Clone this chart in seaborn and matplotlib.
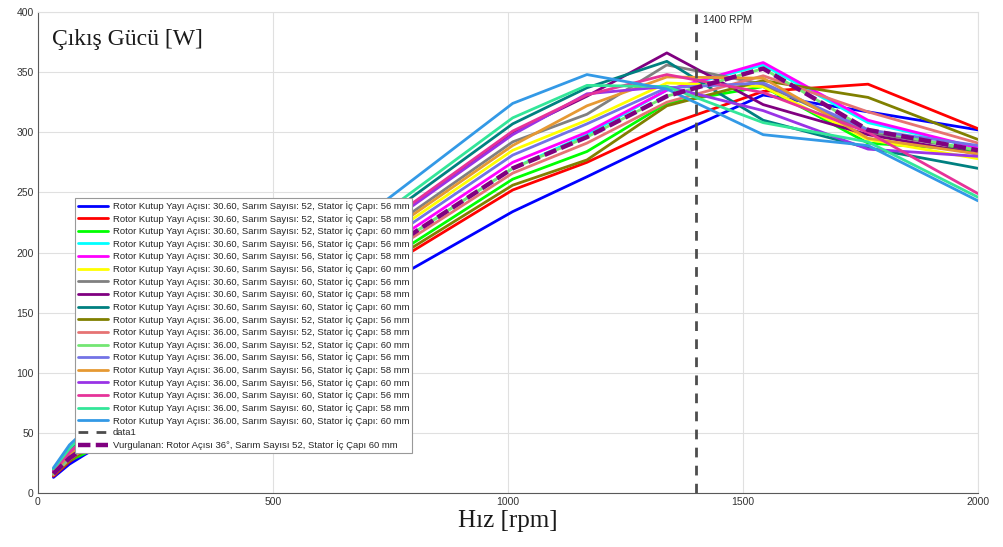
import numpy as np
import pandas as pd
import matplotlib
matplotlib.use("Agg")
import matplotlib.pyplot as plt
import seaborn as sns

# ---------------- data ----------------
speed_rpm = [33, 67, 100, 1010, 1168, 1338, 1543, 1766, 2000]

labels = [
    "Rotor Kutup Yayı Açısı: 30.60, Sarım Sayısı: 52, Stator İç Çapı: 56 mm",
    "Rotor Kutup Yayı Açısı: 30.60, Sarım Sayısı: 52, Stator İç Çapı: 58 mm",
    "Rotor Kutup Yayı Açısı: 30.60, Sarım Sayısı: 52, Stator İç Çapı: 60 mm",
    "Rotor Kutup Yayı Açısı: 30.60, Sarım Sayısı: 56, Stator İç Çapı: 56 mm",
    "Rotor Kutup Yayı Açısı: 30.60, Sarım Sayısı: 56, Stator İç Çapı: 58 mm",
    "Rotor Kutup Yayı Açısı: 30.60, Sarım Sayısı: 56, Stator İç Çapı: 60 mm",
    "Rotor Kutup Yayı Açısı: 30.60, Sarım Sayısı: 60, Stator İç Çapı: 56 mm",
    "Rotor Kutup Yayı Açısı: 30.60, Sarım Sayısı: 60, Stator İç Çapı: 58 mm",
    "Rotor Kutup Yayı Açısı: 30.60, Sarım Sayısı: 60, Stator İç Çapı: 60 mm",
    "Rotor Kutup Yayı Açısı: 36.00, Sarım Sayısı: 52, Stator İç Çapı: 56 mm",
    "Rotor Kutup Yayı Açısı: 36.00, Sarım Sayısı: 52, Stator İç Çapı: 58 mm",
    "Rotor Kutup Yayı Açısı: 36.00, Sarım Sayısı: 52, Stator İç Çapı: 60 mm",
    "Rotor Kutup Yayı Açısı: 36.00, Sarım Sayısı: 56, Stator İç Çapı: 56 mm",
    "Rotor Kutup Yayı Açısı: 36.00, Sarım Sayısı: 56, Stator İç Çapı: 58 mm",
    "Rotor Kutup Yayı Açısı: 36.00, Sarım Sayısı: 56, Stator İç Çapı: 60 mm",
    "Rotor Kutup Yayı Açısı: 36.00, Sarım Sayısı: 60, Stator İç Çapı: 56 mm",
    "Rotor Kutup Yayı Açısı: 36.00, Sarım Sayısı: 60, Stator İç Çapı: 58 mm",
    "Rotor Kutup Yayı Açısı: 36.00, Sarım Sayısı: 60, Stator İç Çapı: 60 mm",
]

p_30_52_56 = [13, 24, 32, 234, 263, 295, 331, 317, 302]
p_30_52_58 = [14, 26, 35, 252, 275, 306, 334, 340, 303]
p_30_52_60 = [15, 27, 33, 261, 284, 324, 338, 291, 285]
p_30_56_56 = [16, 29, 38, 270, 298, 335, 356, 308, 287]
p_30_56_58 = [16, 30, 39, 275, 300, 335, 358, 310, 287]
p_30_56_60 = [17, 31, 41, 285, 310, 341, 338, 294, 278]
p_30_60_56 = [18, 33, 43, 292, 315, 356, 340, 300, 285]
p_30_60_58 = [18, 34, 45, 300, 330, 366, 323, 298, 282]
p_30_60_60 = [20, 36, 48, 307, 337, 359, 310, 287, 270]
p_36_52_56 = [15, 27, 35, 256, 277, 322, 343, 329, 294]
p_36_52_58 = [15, 28, 37, 266, 291, 325, 347, 317, 291]
p_36_52_60 = [16, 29, 38, 270, 296, 330, 353, 302, 285]
p_36_56_56 = [17, 31, 40, 281, 307, 337, 341, 302, 289]
p_36_56_58 = [17, 32, 42, 289, 322, 346, 345, 295, 282]
p_36_56_60 = [18, 34, 45, 298, 332, 338, 318, 286, 280]
p_36_60_56 = [18, 34, 45, 301, 331, 348, 333, 300, 249]
p_36_60_58 = [20, 37, 50, 312, 339, 338, 308, 292, 246]
p_36_60_60 = [21, 40, 52, 324, 348, 336, 298, 289, 243]

series = [p_30_52_56, p_30_52_58, p_30_52_60, p_30_56_56, p_30_56_58, p_30_56_60,
          p_30_60_56, p_30_60_58, p_30_60_60, p_36_52_56, p_36_52_58, p_36_52_60,
          p_36_56_56, p_36_56_58, p_36_56_60, p_36_60_56, p_36_60_58, p_36_60_60]

colors = [
    (0, 0, 1), (1, 0, 0), (0, 1, 0), (0, 1, 1), (1, 0, 1), (1, 1, 0),
    (0.5, 0.5, 0.5), (0.5, 0, 0.5), (0, 0.5, 0.5), (0.5, 0.5, 0),
    (0.9, 0.45, 0.45), (0.45, 0.9, 0.45), (0.45, 0.45, 0.9), (0.9, 0.6, 0.2),
    (0.6, 0.2, 0.9), (0.9, 0.2, 0.6), (0.2, 0.9, 0.6), (0.2, 0.6, 0.9),
]

marker_rpm = 1400
marker_label = "data1"
highlight_label = "Vurgulanan: Rotor Açısı 36°, Sarım Sayısı 52, Stator İç Çapı 60 mm"
highlight_values = p_36_52_60

x_ticks = [0, 500, 1000, 1500, 2000]
y_ticks = [0, 50, 100, 150, 200, 250, 300, 350, 400]

# ---------------- plot ----------------
sns.set_theme(style="white")
plt.rcParams['font.family'] = ['Liberation Sans', 'DejaVu Sans']

fig = plt.figure(figsize=(10.04, 5.47), dpi=100)
ax = fig.add_axes([0.0378, 0.0987, 0.9363, 0.8793])

for vals, lab, col in zip(series, labels, colors):
    df = pd.DataFrame({"rpm": speed_rpm, "P": vals})
    sns.lineplot(data=df, x="rpm", y="P", color=col, lw=2.0, label=lab,
                 ax=ax, sort=False, estimator=None)

ax.axvline(marker_rpm, color=(0.3, 0.3, 0.3), ls=(0, (3.5, 3)), lw=2.0,
           label=marker_label, ymax=0.995)

dfh = pd.DataFrame({"rpm": speed_rpm, "P": highlight_values})
sns.lineplot(data=dfh, x="rpm", y="P", color=(0.5, 0, 0.5), lw=3.2,
             ls=(0, (2.8, 1.2)), label=highlight_label, ax=ax, sort=False,
             estimator=None)

ax.set_xlim(0, 2000)
ax.set_ylim(0, 400)
ax.set_xticks(x_ticks)
ax.set_yticks(y_ticks)
ax.grid(True, color=(0.88, 0.88, 0.88), lw=0.8)
ax.tick_params(axis='both', direction='in', length=4, labelsize=7.5,
               colors=(0.3, 0.3, 0.3), labelcolor=(0.2, 0.2, 0.2), pad=3)
for s in ['left', 'bottom']:
    ax.spines[s].set_color((0.35, 0.35, 0.35))
    ax.spines[s].set_linewidth(0.8)
for s in ['top', 'right']:
    ax.spines[s].set_color((0.88, 0.88, 0.88))
    ax.spines[s].set_linewidth(0.8)

ax.set_xlabel("Hız [rpm]", family="Liberation Serif", fontsize=18,
              color=(0.1, 0.1, 0.1), labelpad=2)
ax.set_ylabel("")
ax.text(0.015, 0.965, "Çıkış Gücü [W]", transform=ax.transAxes,
        family="Liberation Serif", fontsize=17, va="top", ha="left",
        color=(0.1, 0.1, 0.1))
ax.text(marker_rpm + 15, 393, f"{marker_rpm} RPM", fontsize=7.5,
        color=(0.15, 0.15, 0.15), va="center", ha="left")

leg = ax.legend(loc="upper left", bbox_to_anchor=(0.0394, 0.613),
                borderaxespad=0, fontsize=6.8, frameon=True, fancybox=False,
                framealpha=1, edgecolor=(0.6, 0.6, 0.6), handlelength=3.2,
                labelspacing=0.29, handletextpad=0.5, borderpad=0.3)
leg.get_frame().set_linewidth(0.8)
for t in leg.get_texts():
    t.set_color((0.15, 0.15, 0.15))

fig.savefig("out.png", dpi=100)
